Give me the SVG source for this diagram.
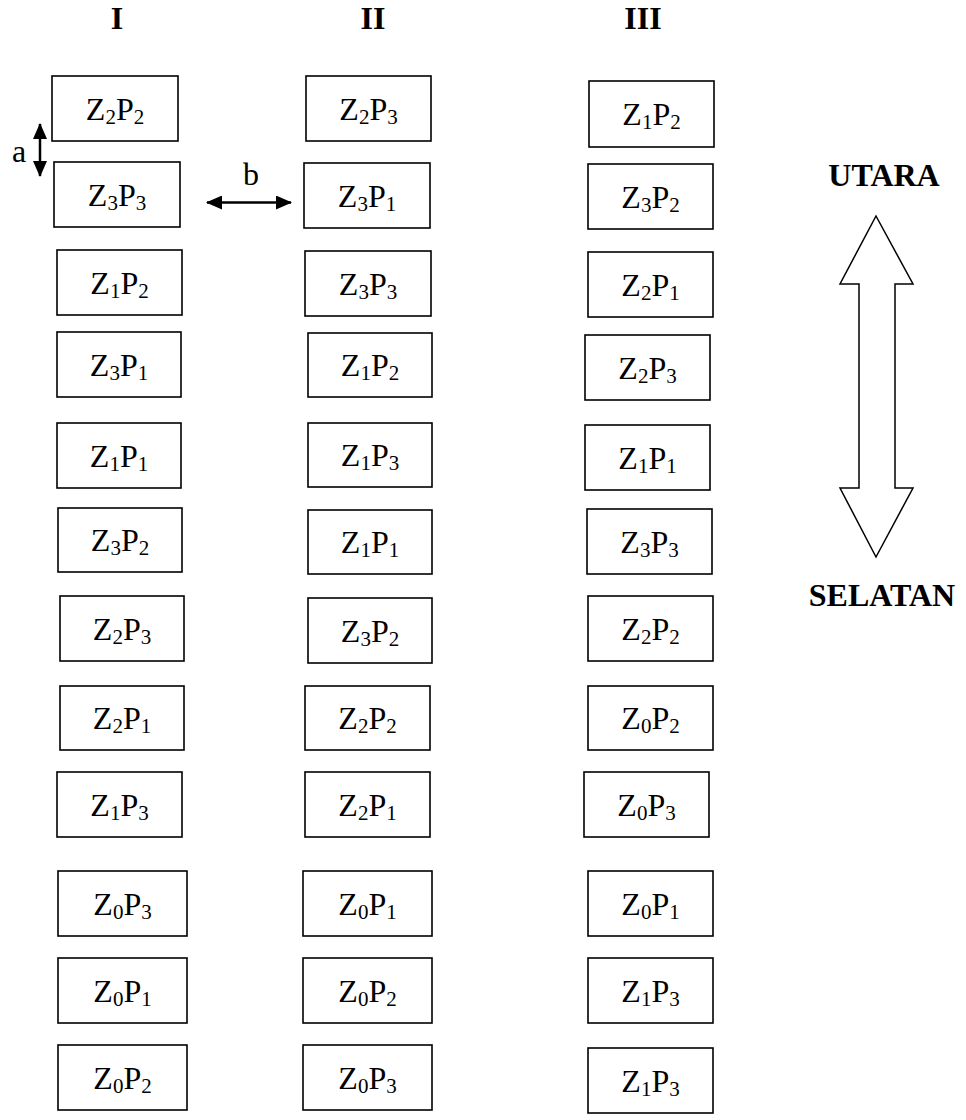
<svg xmlns="http://www.w3.org/2000/svg" width="966" height="1120" viewBox="0 0 966 1120">
<style>
.box rect{fill:#fff;stroke:#000;stroke-width:1.6}
.box text{font-family:"Liberation Serif","Times New Roman",serif;font-size:32px;fill:#000;text-anchor:middle}
.s{font-size:21px}
.hd{font-family:"Liberation Serif","Times New Roman",serif;font-size:32px;font-weight:bold;fill:#000;text-anchor:middle}
.lbl{font-family:"Liberation Serif","Times New Roman",serif;font-size:32px;fill:#000;text-anchor:middle}
.conn line{stroke:#000;stroke-width:2.5}
</style>
<defs>
<marker id="ah" markerUnits="userSpaceOnUse" markerWidth="16" markerHeight="14" refX="15" refY="7" orient="auto-start-reverse">
<path d="M0,0 L16,7 L0,14 Z" fill="#000"/>
</marker>
</defs>
<g id="headers">
<text class="hd" x="117" y="29">I</text>
<text class="hd" x="373" y="29">II</text>
<text class="hd" x="643" y="29">III</text>
</g>
<g id="col1">
<g class="box" id="n1_1"><rect x="52" y="76" width="126" height="65"/><text x="115" y="120">Z<tspan class="s" dy="4">2</tspan><tspan dy="-4">P</tspan><tspan class="s" dy="4">2</tspan></text></g>
<g class="box" id="n1_2"><rect x="54" y="162" width="126" height="65"/><text x="117" y="206">Z<tspan class="s" dy="4">3</tspan><tspan dy="-4">P</tspan><tspan class="s" dy="4">3</tspan></text></g>
<g class="box" id="n1_3"><rect x="57" y="250" width="125" height="65"/><text x="119.5" y="294">Z<tspan class="s" dy="4">1</tspan><tspan dy="-4">P</tspan><tspan class="s" dy="4">2</tspan></text></g>
<g class="box" id="n1_4"><rect x="57" y="332" width="124" height="65"/><text x="119" y="376">Z<tspan class="s" dy="4">3</tspan><tspan dy="-4">P</tspan><tspan class="s" dy="4">1</tspan></text></g>
<g class="box" id="n1_5"><rect x="57" y="423" width="124" height="65"/><text x="119" y="467">Z<tspan class="s" dy="4">1</tspan><tspan dy="-4">P</tspan><tspan class="s" dy="4">1</tspan></text></g>
<g class="box" id="n1_6"><rect x="58" y="508" width="124" height="64"/><text x="120" y="551">Z<tspan class="s" dy="4">3</tspan><tspan dy="-4">P</tspan><tspan class="s" dy="4">2</tspan></text></g>
<g class="box" id="n1_7"><rect x="60" y="596" width="124" height="65"/><text x="122" y="640">Z<tspan class="s" dy="4">2</tspan><tspan dy="-4">P</tspan><tspan class="s" dy="4">3</tspan></text></g>
<g class="box" id="n1_8"><rect x="60" y="686" width="124" height="64"/><text x="122" y="729">Z<tspan class="s" dy="4">2</tspan><tspan dy="-4">P</tspan><tspan class="s" dy="4">1</tspan></text></g>
<g class="box" id="n1_9"><rect x="57" y="772" width="125" height="65"/><text x="119.5" y="816">Z<tspan class="s" dy="4">1</tspan><tspan dy="-4">P</tspan><tspan class="s" dy="4">3</tspan></text></g>
<g class="box" id="n1_10"><rect x="58" y="871" width="129" height="65"/><text x="122.5" y="915">Z<tspan class="s" dy="4">0</tspan><tspan dy="-4">P</tspan><tspan class="s" dy="4">3</tspan></text></g>
<g class="box" id="n1_11"><rect x="58" y="958" width="129" height="65"/><text x="122.5" y="1002">Z<tspan class="s" dy="4">0</tspan><tspan dy="-4">P</tspan><tspan class="s" dy="4">1</tspan></text></g>
<g class="box" id="n1_12"><rect x="58" y="1045" width="129" height="65"/><text x="122.5" y="1089">Z<tspan class="s" dy="4">0</tspan><tspan dy="-4">P</tspan><tspan class="s" dy="4">2</tspan></text></g>
</g>
<g id="col2">
<g class="box" id="n2_1"><rect x="306" y="76" width="125" height="65"/><text x="368.5" y="120">Z<tspan class="s" dy="4">2</tspan><tspan dy="-4">P</tspan><tspan class="s" dy="4">3</tspan></text></g>
<g class="box" id="n2_2"><rect x="304" y="163" width="126" height="65"/><text x="367" y="207">Z<tspan class="s" dy="4">3</tspan><tspan dy="-4">P</tspan><tspan class="s" dy="4">1</tspan></text></g>
<g class="box" id="n2_3"><rect x="305" y="251" width="126" height="65"/><text x="368" y="295">Z<tspan class="s" dy="4">3</tspan><tspan dy="-4">P</tspan><tspan class="s" dy="4">3</tspan></text></g>
<g class="box" id="n2_4"><rect x="308" y="333" width="124" height="64"/><text x="370" y="376">Z<tspan class="s" dy="4">1</tspan><tspan dy="-4">P</tspan><tspan class="s" dy="4">2</tspan></text></g>
<g class="box" id="n2_5"><rect x="308" y="423" width="124" height="64"/><text x="370" y="466">Z<tspan class="s" dy="4">1</tspan><tspan dy="-4">P</tspan><tspan class="s" dy="4">3</tspan></text></g>
<g class="box" id="n2_6"><rect x="308" y="510" width="124" height="64"/><text x="370" y="553">Z<tspan class="s" dy="4">1</tspan><tspan dy="-4">P</tspan><tspan class="s" dy="4">1</tspan></text></g>
<g class="box" id="n2_7"><rect x="308" y="598" width="124" height="65"/><text x="370" y="642">Z<tspan class="s" dy="4">3</tspan><tspan dy="-4">P</tspan><tspan class="s" dy="4">2</tspan></text></g>
<g class="box" id="n2_8"><rect x="305" y="686" width="125" height="64"/><text x="367.5" y="729">Z<tspan class="s" dy="4">2</tspan><tspan dy="-4">P</tspan><tspan class="s" dy="4">2</tspan></text></g>
<g class="box" id="n2_9"><rect x="305" y="772" width="125" height="65"/><text x="367.5" y="816">Z<tspan class="s" dy="4">2</tspan><tspan dy="-4">P</tspan><tspan class="s" dy="4">1</tspan></text></g>
<g class="box" id="n2_10"><rect x="303" y="871" width="129" height="65"/><text x="367.5" y="915">Z<tspan class="s" dy="4">0</tspan><tspan dy="-4">P</tspan><tspan class="s" dy="4">1</tspan></text></g>
<g class="box" id="n2_11"><rect x="303" y="958" width="129" height="65"/><text x="367.5" y="1002">Z<tspan class="s" dy="4">0</tspan><tspan dy="-4">P</tspan><tspan class="s" dy="4">2</tspan></text></g>
<g class="box" id="n2_12"><rect x="303" y="1045" width="129" height="65"/><text x="367.5" y="1089">Z<tspan class="s" dy="4">0</tspan><tspan dy="-4">P</tspan><tspan class="s" dy="4">3</tspan></text></g>
</g>
<g id="col3">
<g class="box" id="n3_1"><rect x="589" y="81" width="125" height="66"/><text x="651.5" y="125">Z<tspan class="s" dy="4">1</tspan><tspan dy="-4">P</tspan><tspan class="s" dy="4">2</tspan></text></g>
<g class="box" id="n3_2"><rect x="588" y="164" width="125" height="65"/><text x="650.5" y="208">Z<tspan class="s" dy="4">3</tspan><tspan dy="-4">P</tspan><tspan class="s" dy="4">2</tspan></text></g>
<g class="box" id="n3_3"><rect x="588" y="252" width="125" height="65"/><text x="650.5" y="296">Z<tspan class="s" dy="4">2</tspan><tspan dy="-4">P</tspan><tspan class="s" dy="4">1</tspan></text></g>
<g class="box" id="n3_4"><rect x="585" y="335" width="125" height="65"/><text x="647.5" y="379">Z<tspan class="s" dy="4">2</tspan><tspan dy="-4">P</tspan><tspan class="s" dy="4">3</tspan></text></g>
<g class="box" id="n3_5"><rect x="585" y="425" width="125" height="65"/><text x="647.5" y="469">Z<tspan class="s" dy="4">1</tspan><tspan dy="-4">P</tspan><tspan class="s" dy="4">1</tspan></text></g>
<g class="box" id="n3_6"><rect x="587" y="509" width="125" height="65"/><text x="649.5" y="553">Z<tspan class="s" dy="4">3</tspan><tspan dy="-4">P</tspan><tspan class="s" dy="4">3</tspan></text></g>
<g class="box" id="n3_7"><rect x="588" y="596" width="125" height="65"/><text x="650.5" y="640">Z<tspan class="s" dy="4">2</tspan><tspan dy="-4">P</tspan><tspan class="s" dy="4">2</tspan></text></g>
<g class="box" id="n3_8"><rect x="588" y="686" width="125" height="64"/><text x="650.5" y="729">Z<tspan class="s" dy="4">0</tspan><tspan dy="-4">P</tspan><tspan class="s" dy="4">2</tspan></text></g>
<g class="box" id="n3_9"><rect x="584" y="772" width="125" height="65"/><text x="646.5" y="816">Z<tspan class="s" dy="4">0</tspan><tspan dy="-4">P</tspan><tspan class="s" dy="4">3</tspan></text></g>
<g class="box" id="n3_10"><rect x="588" y="871" width="125" height="65"/><text x="650.5" y="915">Z<tspan class="s" dy="4">0</tspan><tspan dy="-4">P</tspan><tspan class="s" dy="4">1</tspan></text></g>
<g class="box" id="n3_11"><rect x="588" y="958" width="125" height="65"/><text x="650.5" y="1002">Z<tspan class="s" dy="4">1</tspan><tspan dy="-4">P</tspan><tspan class="s" dy="4">3</tspan></text></g>
<g class="box" id="n3_12"><rect x="588" y="1048" width="125" height="65"/><text x="650.5" y="1092">Z<tspan class="s" dy="4">1</tspan><tspan dy="-4">P</tspan><tspan class="s" dy="4">3</tspan></text></g>
</g>
<g class="conn" id="connectors">
<line x1="40" y1="124" x2="40" y2="176" marker-start="url(#ah)" marker-end="url(#ah)"/>
<line x1="207" y1="202.5" x2="291" y2="202.5" marker-start="url(#ah)" marker-end="url(#ah)"/>
</g>
<g id="labels">
<text class="lbl" x="19" y="162">a</text>
<text class="lbl" x="251" y="185">b</text>
</g>
<g id="compass">
<text class="hd" x="884" y="186">UTARA</text>
<path d="M876,216 L913,284 L895,284 L895,488 L913,488 L876,557 L840,488 L859,488 L859,284 L840,284 Z" fill="#fff" stroke="#000" stroke-width="1.5" stroke-linejoin="miter"/>
<text class="hd" x="882" y="606">SELATAN</text>
</g>
</svg>
